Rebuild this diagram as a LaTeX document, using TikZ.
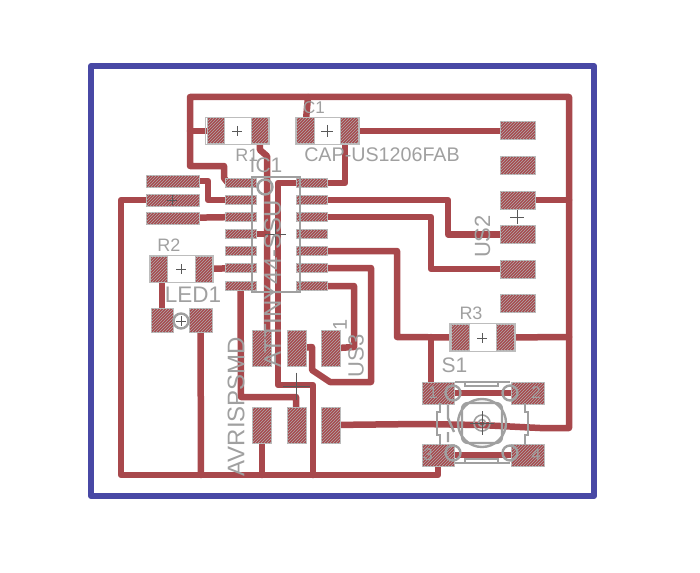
\documentclass[tikz,border=0pt]{standalone}
\usepackage{fontspec}
\setmainfont{Liberation Sans}
\usepackage{xcolor}
\usepackage{tikz}
\usetikzlibrary{patterns,backgrounds}

\definecolor{boardblue}{RGB}{72,72,165}
\definecolor{copper}{RGB}{168,72,76}
\definecolor{silk}{RGB}{160,160,160}

\tikzset{
    trace/.style={draw=copper, line width=6.5pt, line join=round, line cap=round},
    pad/.style={rectangle, fill=copper, draw=silk!70, line width=1pt, inner sep=0pt,
        postaction={pattern=north east lines, pattern color=silk!85}},
    outl/.style={draw=silk, line width=2.4pt},
    thinout/.style={draw=silk!70, line width=1.2pt},
    crossline/.style={draw=black!65, line width=0.7pt},
    lbl/.style={text=silk, inner sep=0pt}
}
\newcommand{\crossat}[3]{\draw[crossline] (#1-#3,#2) -- (#1+#3,#2) (#1,#2-#3) -- (#1,#2+#3);}
\newcommand{\fsz}[1]{\fontsize{#1}{#1}\selectfont}

\begin{document}
\begin{tikzpicture}[x=1pt, y=-1pt]
    \useasboundingbox (0,0) rectangle (700,572);

    % Board edge
    \draw [draw=boardblue, line width=6pt, line join=round] (91,66) rectangle (594,496);

    % Resistors and capacitor
    \node [pad, minimum width=17pt, minimum height=26pt] (r1a) at (215.5,131) {};
    \node [pad, minimum width=17pt, minimum height=26pt] (r1b) at (259.5,131) {};
    \node [pad, minimum width=18pt, minimum height=26pt] (c1a) at (305,131) {};
    \node [pad, minimum width=18pt, minimum height=26pt] (c1b) at (349.5,131) {};
    \node [pad, minimum width=17pt, minimum height=26pt] (r2a) at (159,269) {};
    \node [pad, minimum width=17pt, minimum height=26pt] (r2b) at (203.5,269) {};
    \node [pad, minimum width=18pt, minimum height=26pt] (r3a) at (460,337.5) {};
    \node [pad, minimum width=18pt, minimum height=26pt] (r3b) at (505,337.5) {};

    % LED
    \node [pad, minimum width=22pt, minimum height=24pt] (leda) at (162,320) {};
    \node [pad, minimum width=23pt, minimum height=24pt] (ledb) at (200.5,320) {};

    % Left header
    \node [pad, minimum width=53pt, minimum height=12pt] (sva) at (172.5,181) {};
    \node [pad, minimum width=53pt, minimum height=12pt] (svb) at (172.5,200) {};
    \node [pad, minimum width=53pt, minimum height=12pt] (svc) at (172.5,218) {};

    % IC pins
    \foreach \n/\y in {1/183,2/200,3/217,4/234,5/251,6/268,7/286} {
        \node [pad, minimum width=31pt, minimum height=9pt] (icl\n) at (240.5,\y) {};
        \node [pad, minimum width=31pt, minimum height=9pt] (icr\n) at (311.5,\y) {};
    }

    % Right connector
    \foreach \n/\y in {1/131,2/165.5,3/200,4/234.5,5/269,6/303} {
        \node [pad, minimum width=35pt, minimum height=18pt] (usb\n) at (517.5,\y) {};
    }

    % ISP header
    \foreach \n/\x in {1/262,2/296.5,3/330.5} {
        \node [pad, minimum width=19pt, minimum height=36pt] (ispt\n) at (\x,348.5) {};
        \node [pad, minimum width=19pt, minimum height=36pt] (ispb\n) at (\x,425) {};
    }

    % Switch pads
    \node [pad, minimum width=32pt, minimum height=22pt] (swa) at (438,393) {};
    \node [pad, minimum width=33pt, minimum height=22pt] (swb) at (527.5,393) {};
    \node [pad, minimum width=32pt, minimum height=22pt] (swc) at (438,455) {};
    \node [pad, minimum width=33pt, minimum height=22pt] (swd) at (527.5,455) {};

    % Copper traces
    \begin{scope}[on background layer]
        \draw [trace] (ispb3.center) -- (420,424) -- (480,425) -- (540,428) -- (569,428) -- (569,97) -- (190,97) -- (190,166) -- (224,166) -- (224,178) -- (228,183) -- (icl1.center);
        \draw [trace] (r1a.center) -- (190,131);
        \draw [trace] (308,97) -- (c1a.center);
        \draw [trace] (c1b.center) -- (usb1.center);
        \draw [trace] (345,131) -- (345,183) -- (278,183) -- (278,385) -- (313,385) -- (313,475);
        \draw [trace] (r1b.center) -- (260,150) -- (267,156) -- ([xshift=5pt]ispt1.center);
        \draw [trace] (icl4.center) -- (267,234);
        \draw [trace] (svb.center) -- (121,200) -- (121,475) -- (438,475) -- (swc.center);
        \draw [trace] (ledb.center) -- (201,475);
        \draw [trace] (ispb1.center) -- (262,475);
        \draw [trace] (sva.center) -- (208,181) -- (208,200) -- (icl2.center);
        \draw [trace] (svc.center) -- (icl3.center);
        \draw [trace] ([xshift=3pt]r2a.center) -- (leda.center);
        \draw [trace] (r2b.center) -- (icl6.center);
        \draw [trace] (icl7.center) -- (241,397) -- (296,397) -- (ispb2.center);
        \draw [trace] (ispt2.center) -- (312,347) -- (312,370) -- (330,382) -- (371,382) -- (371,268) -- (icr6.center);
        \draw [trace] (ispt3.center) -- (354,347) -- (354,286) -- (icr7.center);
        \draw [trace] (icr5.center) -- (397,251) -- (397,337) -- (r3a.center);
        \draw [trace] (431,337) -- (431,382);
        \draw [trace] (icr3.center) -- (431,217) -- (431,269) -- (usb5.center);
        \draw [trace] (icr2.center) -- (448,200) -- (448,234.5) -- (usb4.center);
        \draw [trace] (usb3.center) -- (569,200);
        \draw [trace] (r3b.center) -- (569,337);
        \draw [trace] (swa.center) -- (swb.center);
        \draw [trace] (swc.center) -- (swd.center);
    \end{scope}

    % Part outlines
    \draw [thinout] (205.5,117.5) rectangle (269.5,144.5);
    \draw [thinout] (295.5,117.5) rectangle (359.5,144.5);
    \draw [thinout] (149.5,255.5) rectangle (213,282.5);
    \draw [thinout] (450,323.5) rectangle (515,351.5);
    \draw [outl] (252,177) rectangle (300,292);
    \draw [outl] (265,187) circle (7.5);
    \draw [outl] (181,321) circle (7.5);

    % Switch body
    \draw [outl] (455,382) -- (510,382) (465,382) rectangle (498,386);
    \draw [outl] (455,463) -- (510,463) (465,459) rectangle (498,463);
    \draw [outl] (440,403) -- (440,412) -- (437,412) -- (437,435) -- (440,435) -- (440,445);
    \draw [outl] (525,403) -- (525,412) -- (528,412) -- (528,435) -- (525,435) -- (525,445);
    \draw [outl] (448,405) -- (448,418) -- (454,432) (448,432) -- (448,442);
    \draw [outl] (482,423) circle (24);
    \draw [outl, rounded corners=6pt] (462,403) rectangle (502,443);
    \draw [outl, line width=1.6pt] (482,423) circle (8) (482,423) circle (3.5);
    \foreach \x/\y in {453/393,510/393,453/453,510/453} {
        \draw [outl] (\x,\y) circle (7.5);
    }

    % Centre marks
    \crossat{237}{131}{5}
    \crossat{327}{131}{6}
    \crossat{181}{269}{5}
    \crossat{181}{321}{5}
    \crossat{172}{200}{5}
    \crossat{482}{338}{5}
    \crossat{517}{217}{7}
    \crossat{275}{234}{10.5}
    \crossat{296}{386}{13.5}
    \crossat{482}{423}{12}

    % Labels
    \node [lbl, font=\fsz{17}] (c1lbl) at (314,108) {C1};
    \node [lbl, font=\fsz{18}] (r1lbl) at (247,155) {R1};
    \node [lbl, font=\fsz{21}] (iclbl) at (266,165) {IC1};
    \node [lbl, font=\fsz{19.7}] (caplbl) at (382,155) {CAP-US1206FAB};
    \node [lbl, font=\fsz{18}] (r2lbl) at (169,245) {R2};
    \node [lbl, font=\fsz{22.5}] (ledlbl) at (193,295) {LED1};
    \node [lbl, font=\fsz{18}] (r3lbl) at (471,313.5) {R3};
    \node [lbl, font=\fsz{21}] (s1lbl) at (454.5,365) {S1};
    \node [lbl, font=\fsz{24}, rotate=90] (isplbl) at (236,406.5) {AVRISPSMD};
    \node [lbl, font=\fsz{24}, rotate=90] (attlbl) at (272.5,284) {ATTINY44-SSU};
    \node [lbl, font=\fsz{22}, rotate=90] (us2lbl) at (482.5,236.5) {US2};
    \node [lbl, font=\fsz{22}, rotate=90] (us3lbl) at (356,356) {US3};
    \node [lbl, font=\fsz{20}, rotate=90] (onelbl) at (340,325) {1};
    \node [lbl, font=\fsz{17}] (sw1lbl) at (433,393) {1};
    \node [lbl, font=\fsz{17}] (sw2lbl) at (536,393) {2};
    \node [lbl, font=\fsz{17}] (sw3lbl) at (428,455) {3};
    \node [lbl, font=\fsz{17}] (sw4lbl) at (536,455) {4};

\end{tikzpicture}
\end{document}
